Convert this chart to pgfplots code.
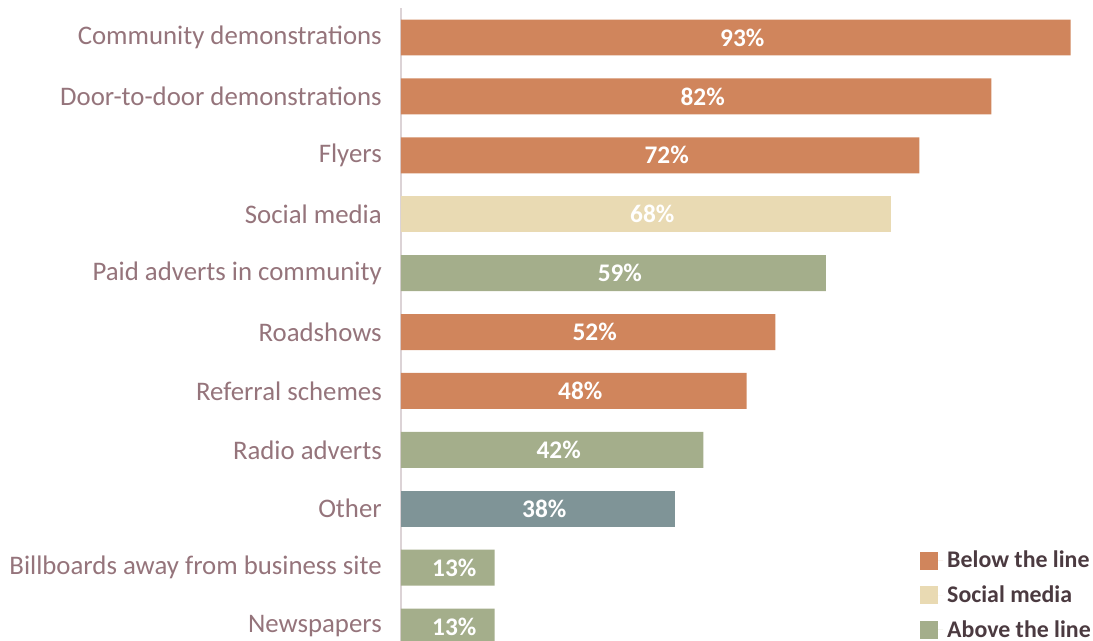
\documentclass[border=0pt]{standalone}
\usepackage{pgfplots}
\pgfplotsset{compat=1.18}
\usepackage{fontspec}
\setmainfont{Carlito}
\definecolor{cOrange}{HTML}{D0855C}
\definecolor{cBeige}{HTML}{E9DAB3}
\definecolor{cGreen}{HTML}{A4AE8B}
\definecolor{cGray}{HTML}{7F9497}
\definecolor{cLabel}{HTML}{95747B}
\definecolor{cLegend}{HTML}{4B3A40}
\definecolor{cAxis}{HTML}{DCD3D6}
\begin{document}
\begin{tikzpicture}
\begin{axis}[
  at={(300.75pt,-2.4pt)}, anchor=south west,
  scale only axis, width=540pt, height=477.1pt,
  xmin=0, xmax=100, ymin=-0.3, ymax=10.5,
  axis x line=none,
  axis y line*=left,
  y axis line style={draw=cAxis, line width=1pt},
  ytick={0,...,10},
  yticklabels={Newspapers, Billboards away from business site, Other, Radio adverts, Referral schemes, Roadshows, Paid adverts in community, Social media, Flyers, Door-to-door demonstrations, Community demonstrations},
  major tick length=0pt,
  yticklabel style={font=\fontsize{20.1}{22}\selectfont, text=cLabel, inner sep=0pt, xshift=-14.25pt},
  legend style={at={(0.7208,0.153)}, anchor=north west, draw=none, fill=none, inner sep=0pt,
    font=\bfseries\fontsize{17.9}{20}\selectfont, text=cLegend, row sep=6pt,
    nodes={inner sep=3pt}},
  legend cell align=left,
  legend image code/.code={\path (0pt,0pt) -- (17.25pt,0pt);\fill[#1, draw=none] (0pt,-6.75pt) rectangle (13.5pt,6.75pt);},
  clip=false,
]
\addplot[xbar, bar width=0.611, bar shift=0pt, fill=cOrange, draw=none] coordinates {(93,10) (82,9) (72,8) (52,5) (48,4)};
\addlegendentry{Below the line}
\addplot[xbar, bar width=0.611, bar shift=0pt, fill=cBeige, draw=none] coordinates {(68,7)};
\addlegendentry{Social media}
\addplot[xbar, bar width=0.611, bar shift=0pt, fill=cGreen, draw=none] coordinates {(59,6) (42,3) (13,1) (13,0)};
\addlegendentry{Above the line}
\addplot[xbar, bar width=0.611, bar shift=0pt, fill=cGray, draw=none, forget plot] coordinates {(38,2)};
\addplot[draw=none, mark=none, forget plot, point meta=explicit,
  nodes near coords={\pgfmathprintnumber[fixed,precision=0,assume math mode=true]{\pgfplotspointmeta}\%},
  nodes near coords style={anchor=center, text=white, font=\bfseries\fontsize{19}{21}\selectfont}]
  coordinates {(47.4,10) [93] (41.9,9) [82] (36.9,8) [72] (34.9,7) [68] (30.4,6) [59] (26.9,5) [52] (24.9,4) [48] (21.9,3) [42] (19.9,2) [38] (7.4,1) [13] (7.4,0) [13]};
\end{axis}
\pgfresetboundingbox
\useasboundingbox (0,0) rectangle (819.75pt,480.75pt);
\end{tikzpicture}
\end{document}
